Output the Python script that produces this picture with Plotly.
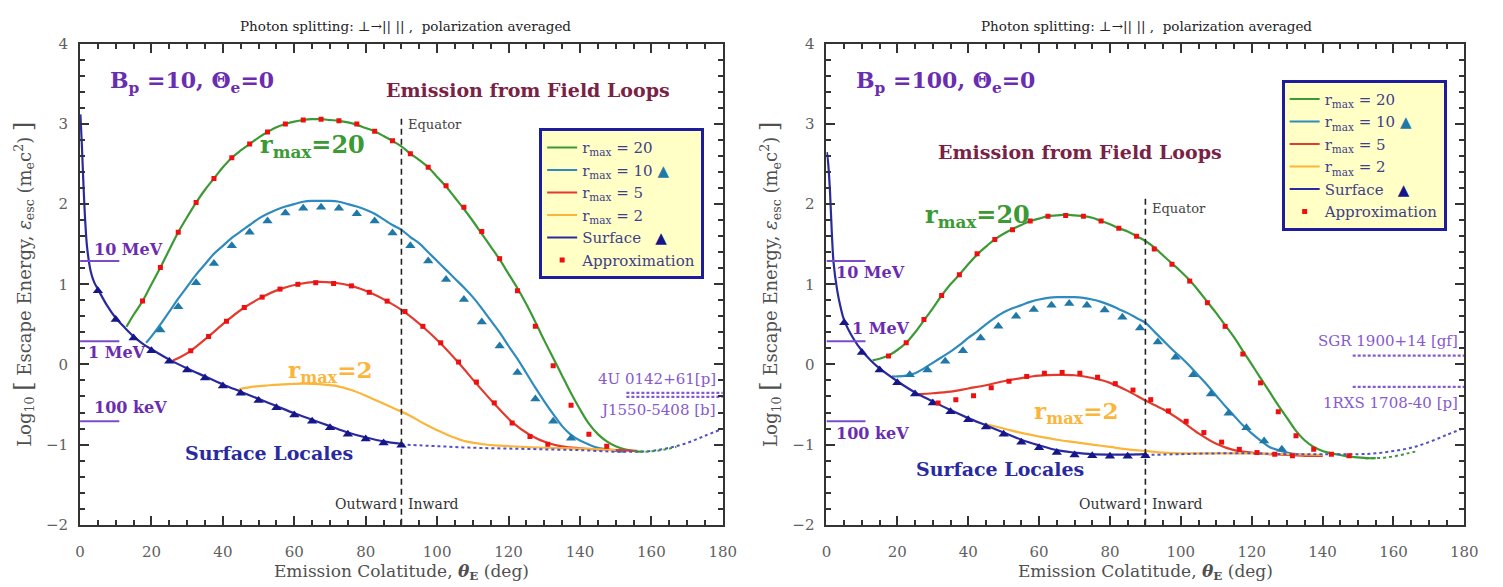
import plotly.graph_objects as go

# ---------------- DATA ----------------
# Left panel: Bp = 10
L_surf_theta = [0.1, 0.5, 1, 1.5, 2, 3, 4, 5, 7.5, 10, 12.5, 15, 17.5, 20, 25, 30, 35, 40, 45, 50, 55, 60, 65, 70, 75, 80, 85, 90]
L_surf_val = [3.12, 2.75, 2.2, 1.75, 1.45, 1.16, 1.02, 0.94, 0.74, 0.58, 0.46, 0.35, 0.26, 0.19, 0.06, -0.05, -0.15, -0.25, -0.34, -0.43, -0.52, -0.61, -0.69, -0.77, -0.85, -0.91, -0.96, -0.99]
L_surf_tri_theta = [5, 10, 15, 20, 25, 30, 35, 40, 45, 50, 55, 60, 65, 70, 75, 80, 85, 90]
L_surf_tri_val = [0.92, 0.56, 0.33, 0.17, 0.04, -0.07, -0.17, -0.27, -0.36, -0.45, -0.54, -0.63, -0.71, -0.79, -0.87, -0.93, -0.98, -1.01]
L_surf_dot_theta = [90, 100, 110, 120, 130, 140, 150, 155, 160, 165, 170, 175, 179]
L_surf_dot_val = [-1.0, -1.02, -1.04, -1.05, -1.06, -1.07, -1.09, -1.09, -1.08, -1.04, -0.98, -0.89, -0.82]

L_r20_theta = [13, 15, 17.5, 20, 22.5, 25, 27.5, 30, 32.5, 35, 37.5, 40, 42.5, 45, 47.5, 50, 52.5, 55, 57.5, 60, 62.5, 65, 67.5, 70, 72.5, 75, 77.5, 80, 82.5, 85, 87.5, 90, 92.5, 95, 97.5, 100, 102.5, 105, 107.5, 110, 112.5, 115, 117.5, 120, 122.5, 125, 127.5, 130, 132.5, 135, 137.5, 140, 142.5, 145, 147.5, 150, 152.5, 155, 157.5]
L_r20_val = [0.47, 0.62, 0.79, 1.0, 1.21, 1.43, 1.65, 1.84, 2.02, 2.18, 2.32, 2.46, 2.58, 2.67, 2.75, 2.83, 2.90, 2.96, 3.0, 3.03, 3.05, 3.06, 3.06, 3.05, 3.04, 3.02, 2.99, 2.95, 2.91, 2.85, 2.79, 2.72, 2.63, 2.55, 2.46, 2.34, 2.22, 2.08, 1.94, 1.79, 1.63, 1.47, 1.31, 1.13, 0.95, 0.75, 0.53, 0.30, 0.08, -0.14, -0.36, -0.56, -0.74, -0.87, -0.96, -1.02, -1.06, -1.08, -1.09]
L_r20_approx_theta = [17.5, 22.5, 27.5, 32.5, 37.5, 42.5, 47.5, 52.5, 57.5, 62.5, 67.5, 72.5, 77.5, 82.5, 87.5, 92.5, 97.5, 102.5, 107.5, 112.5, 117.5, 122.5, 127.5, 132.5, 137.5, 142.5, 147.5]
L_r20_approx_val = [0.79, 1.21, 1.65, 2.02, 2.32, 2.58, 2.75, 2.90, 3.0, 3.05, 3.06, 3.04, 3.0, 2.91, 2.79, 2.63, 2.46, 2.23, 1.96, 1.66, 1.32, 0.92, 0.475, -0.016, -0.51, -0.87, -1.02]

L_r10_theta = [18.5, 20, 22.5, 25, 27.5, 30, 32.5, 35, 37.5, 40, 42.5, 45, 47.5, 50, 52.5, 55, 57.5, 60, 62.5, 65, 67.5, 70, 72.5, 75, 77.5, 80, 82.5, 85, 87.5, 90, 92.5, 95, 97.5, 100, 102.5, 105, 107.5, 110, 112.5, 115, 117.5, 120, 122.5, 125, 127.5, 130, 132.5, 135, 137.5, 140, 142.5, 145, 147.5, 150, 152.5]
L_r10_val = [0.27, 0.35, 0.5, 0.66, 0.82, 0.97, 1.12, 1.25, 1.38, 1.48, 1.58, 1.66, 1.74, 1.82, 1.88, 1.93, 1.97, 2.0, 2.03, 2.04, 2.04, 2.04, 2.03, 2.0, 1.97, 1.93, 1.88, 1.81, 1.74, 1.68, 1.59, 1.51, 1.40, 1.29, 1.18, 1.07, 0.96, 0.84, 0.70, 0.55, 0.40, 0.23, 0.07, -0.11, -0.29, -0.46, -0.62, -0.77, -0.88, -0.95, -1.0, -1.04, -1.06, -1.08, -1.09]
L_r10_tri_theta = [22.5, 27.5, 32.5, 37.5, 42.5, 47.5, 52.5, 57.5, 62.5, 67.5, 72.5, 77.5, 82.5, 87.5, 92.5, 97.5, 102.5, 107.5, 112.5, 117.5, 122.5, 127.5, 132.5, 137.5]
L_r10_tri_val = [0.43, 0.72, 1.02, 1.26, 1.48, 1.65, 1.79, 1.89, 1.95, 1.96, 1.95, 1.88, 1.79, 1.64, 1.48, 1.29, 1.06, 0.81, 0.53, 0.23, -0.10, -0.43, -0.71, -0.92]

L_r5_theta = [26, 28, 31, 36, 41, 46, 51, 56, 61, 66, 71, 76, 81, 86, 91, 96, 101, 106, 111, 116, 121, 126, 131, 136, 141, 146, 151, 156]
L_r5_val = [0.05, 0.09, 0.17, 0.35, 0.54, 0.71, 0.84, 0.94, 1.0, 1.03, 1.02, 0.98, 0.90, 0.79, 0.65, 0.47, 0.26, 0.02, -0.24, -0.49, -0.72, -0.88, -0.98, -1.03, -1.05, -1.06, -1.07, -1.08]
L_r5_approx_theta = [31, 36, 41, 46, 51, 56, 61, 66, 71, 76, 81, 86, 91, 96, 101, 106, 111, 116, 121, 126, 131]
L_r5_approx_val = [0.17, 0.35, 0.54, 0.71, 0.84, 0.94, 1.0, 1.02, 1.01, 0.98, 0.90, 0.79, 0.66, 0.475, 0.27, 0.03, -0.22, -0.48, -0.73, -0.90, -0.995]

L_r2_theta = [44.5, 48, 53, 58, 63, 68, 72, 76, 80, 84, 88, 92, 96, 100, 104, 108, 112, 116, 120, 130, 140, 150]
L_r2_val = [-0.31, -0.28, -0.26, -0.245, -0.24, -0.25, -0.27, -0.32, -0.39, -0.47, -0.55, -0.63, -0.73, -0.82, -0.9, -0.96, -0.99, -1.01, -1.02, -1.04, -1.05, -1.07]

L_green_dot_theta = [155, 158, 161, 164, 167]
L_green_dot_val = [-1.08, -1.09, -1.08, -1.06, -1.03]

# Right panel: Bp = 100
R_surf_theta = [0.1, 0.5, 1, 1.5, 2, 3, 4, 5, 7.5, 10, 12.5, 15, 20, 25, 30, 35, 40, 45, 50, 55, 60, 65, 70, 75, 80, 85, 90]
R_surf_val = [2.65, 2.5, 2.15, 1.65, 1.27, 0.93, 0.71, 0.55, 0.33, 0.17, 0.05, -0.05, -0.21, -0.35, -0.46, -0.57, -0.67, -0.76, -0.85, -0.94, -1.01, -1.07, -1.10, -1.12, -1.125, -1.125, -1.12]
R_surf_tri_theta = [5, 10, 15, 20, 25, 30, 35, 40, 45, 50, 55, 60, 65, 70, 75, 80, 85, 90]
R_surf_tri_val = [0.52, 0.15, -0.07, -0.23, -0.37, -0.48, -0.59, -0.69, -0.78, -0.87, -0.97, -1.04, -1.10, -1.13, -1.14, -1.145, -1.145, -1.14]
R_surf_dot_theta = [90, 100, 110, 120, 130, 140, 150, 155, 160, 165, 170, 175, 179]
R_surf_dot_val = [-1.13, -1.12, -1.11, -1.11, -1.12, -1.12, -1.12, -1.11, -1.08, -1.04, -0.97, -0.88, -0.81]

R_r20_theta = [13, 15, 17.5, 20, 22.5, 25, 27.5, 30, 32.5, 35, 37.5, 40, 42.5, 45, 47.5, 50, 52.5, 55, 57.5, 60, 62.5, 65, 67.5, 70, 72.5, 75, 77.5, 80, 82.5, 85, 87.5, 90, 92.5, 95, 97.5, 100, 102.5, 105, 107.5, 110, 112.5, 115, 117.5, 120, 122.5, 125, 127.5, 130, 132.5, 135, 137.5, 140, 142.5, 145, 147.5, 150, 152.5, 155]
R_r20_val = [0.05, 0.07, 0.11, 0.18, 0.27, 0.40, 0.55, 0.70, 0.86, 1.0, 1.12, 1.25, 1.37, 1.47, 1.56, 1.63, 1.69, 1.74, 1.79, 1.82, 1.85, 1.86, 1.87, 1.86, 1.85, 1.83, 1.79, 1.75, 1.70, 1.66, 1.60, 1.54, 1.46, 1.36, 1.26, 1.16, 1.05, 0.92, 0.78, 0.64, 0.49, 0.34, 0.17, 0.0, -0.17, -0.34, -0.51, -0.67, -0.83, -0.95, -1.03, -1.08, -1.11, -1.13, -1.15, -1.16, -1.17, -1.17]
R_r20_approx_theta = [17.5, 22.5, 27.5, 32.5, 37.5, 42.5, 47.5, 52.5, 57.5, 62.5, 67.5, 72.5, 77.5, 82.5, 87.5, 92.5, 97.5, 102.5, 107.5, 112.5, 117.5, 122.5, 127.5, 132.5, 137.5, 142.5, 147.5]
R_r20_approx_val = [0.105, 0.27, 0.56, 0.86, 1.12, 1.38, 1.56, 1.68, 1.79, 1.85, 1.86, 1.85, 1.79, 1.70, 1.60, 1.44, 1.25, 1.04, 0.77, 0.475, 0.13, -0.23, -0.59, -0.89, -1.06, -1.12, -1.14]

R_r10_theta = [18.5, 20, 22.5, 25, 27.5, 30, 32.5, 35, 37.5, 40, 42.5, 45, 47.5, 50, 52.5, 55, 57.5, 60, 62.5, 65, 67.5, 70, 72.5, 75, 77.5, 80, 82.5, 85, 87.5, 90, 92.5, 95, 97.5, 100, 102.5, 105, 107.5, 110, 112.5, 115, 117.5, 120, 122.5, 125, 127.5, 130, 132.5, 135, 140]
R_r10_val = [-0.15, -0.15, -0.14, -0.11, -0.05, 0.02, 0.09, 0.16, 0.24, 0.33, 0.41, 0.50, 0.58, 0.65, 0.70, 0.74, 0.78, 0.81, 0.83, 0.84, 0.84, 0.84, 0.83, 0.81, 0.78, 0.74, 0.69, 0.64, 0.58, 0.52, 0.41, 0.30, 0.19, 0.09, -0.02, -0.14, -0.26, -0.39, -0.52, -0.64, -0.76, -0.86, -0.95, -1.03, -1.07, -1.10, -1.12, -1.13, -1.14]
R_r10_tri_theta = [23.5, 28.5, 33.5, 38.5, 43.5, 48.5, 53.5, 58.5, 63.5, 68.5, 73.5, 78.5, 83.5, 88.5, 93.5, 98.5, 103.5, 108.5, 113.5, 118.5, 123.5, 128.5]
R_r10_tri_val = [-0.13, -0.07, 0.04, 0.17, 0.33, 0.475, 0.60, 0.685, 0.74, 0.76, 0.74, 0.68, 0.59, 0.455, 0.28, 0.09, -0.13, -0.37, -0.61, -0.79, -0.955, -1.06]

R_r5_theta = [26, 30, 35, 40, 45, 50, 55, 60, 65, 70, 75, 80, 85, 90, 95, 100, 105, 110, 115, 120, 125, 130, 135, 140]
R_r5_val = [-0.37, -0.36, -0.34, -0.30, -0.26, -0.21, -0.17, -0.14, -0.13, -0.135, -0.17, -0.23, -0.33, -0.45, -0.56, -0.70, -0.86, -0.99, -1.07, -1.10, -1.12, -1.13, -1.14, -1.14]
R_r5_approx_theta = [31.5, 36.5, 41.5, 46.5, 51.5, 56.5, 61.5, 66.5, 71.5, 76.5, 81.5, 86.5, 91.5, 96.5, 101.5, 106.5, 111.5, 116.5, 121.5, 126.5, 131.5]
R_r5_approx_val = [-0.48, -0.44, -0.39, -0.29, -0.21, -0.15, -0.11, -0.10, -0.11, -0.16, -0.24, -0.32, -0.44, -0.58, -0.71, -0.85, -0.97, -1.06, -1.10, -1.12, -1.14]

R_r2_theta = [44.5, 50, 55, 60, 65, 70, 75, 80, 85, 90, 95, 100, 110, 120, 130, 140]
R_r2_val = [-0.74, -0.80, -0.855, -0.90, -0.94, -0.97, -1.0, -1.03, -1.06, -1.08, -1.10, -1.11, -1.11, -1.11, -1.12, -1.13]

R_green_dot_theta = [152, 155, 158, 161, 164, 167]
R_green_dot_val = [-1.17, -1.17, -1.16, -1.14, -1.11, -1.08]

# Reference energy levels (log10 of E / m_e c^2)
energy_labels = ["10 MeV", "1 MeV", "100 keV"]
energy_vals = [1.29, 0.29, -0.71]
energy_theta_end = 11

# Magnetar cutoff markers
L_mag_names = ["4U 0142+61[p]", "J1550-5408 [b]"]
L_mag_vals = [-0.355, -0.405]
R_mag_names = ["SGR 1900+14 [gf]", "1RXS 1708-40 [p]"]
R_mag_vals = [0.11, -0.28]
L_mag_theta = [153, 180]
R_mag_theta = [148.5, 180]

x_tickvals = [0, 20, 40, 60, 80, 100, 120, 140, 160, 180]
y_tickvals = [-2, -1, 0, 1, 2, 3, 4]
equator_theta = 90

# ---------------- STYLE ----------------
C_GREEN = "#3c9a34"
C_BLUE = "#2f8bbd"
C_BLUE_TRI = "#1f79a8"
C_RED = "#e23b2e"
C_YEL = "#fbb53a"
C_SURF = "#2a2aa0"
C_SURF_TRI = "#16168a"
C_APPROX = "#ee1010"
C_PURPLE = "#6a2db0"
C_MAG = "#8659cf"
SERIF = "DejaVu Serif"
BOLD = "DejaVu Serif"

fig = go.Figure()

def add_panel(xa, ya, lg, P):
    common = dict(xaxis=xa, yaxis=ya, legend=lg, mode="lines", line_shape="spline")
    fig.add_trace(go.Scatter(x=P["r20"][0], y=P["r20"][1], name="r<sub>max</sub> = 20",
                             line=dict(color=C_GREEN, width=2.2), **common))
    fig.add_trace(go.Scatter(x=P["r10"][0], y=P["r10"][1],
                             name="r<sub>max</sub> = 10 <span style='color:%s'>▲</span>" % C_BLUE_TRI,
                             line=dict(color=C_BLUE, width=2.2), **common))
    fig.add_trace(go.Scatter(x=P["r5"][0], y=P["r5"][1], name="r<sub>max</sub> = 5",
                             line=dict(color=C_RED, width=2.2), **common))
    fig.add_trace(go.Scatter(x=P["r2"][0], y=P["r2"][1], name="r<sub>max</sub> = 2",
                             line=dict(color=C_YEL, width=2.2), **common))
    fig.add_trace(go.Scatter(x=P["surf"][0], y=P["surf"][1],
                             name="Surface&nbsp;&nbsp; <span style='color:%s'>▲</span>" % C_SURF_TRI,
                             line=dict(color=C_SURF, width=2.2), **common))
    # dotted continuations
    fig.add_trace(go.Scatter(x=P["surfdot"][0], y=P["surfdot"][1], xaxis=xa, yaxis=ya, mode="lines",
                             line_shape="spline", line=dict(color="#5050c8", width=2, dash="dot"),
                             showlegend=False, hoverinfo="skip"))
    fig.add_trace(go.Scatter(x=P["greendot"][0], y=P["greendot"][1], xaxis=xa, yaxis=ya, mode="lines",
                             line_shape="spline", line=dict(color=C_GREEN, width=2, dash="dot"),
                             showlegend=False, hoverinfo="skip"))
    # markers
    fig.add_trace(go.Scatter(x=P["r10tri"][0], y=P["r10tri"][1], xaxis=xa, yaxis=ya, mode="markers",
                             marker=dict(symbol="triangle-up", size=9, color=C_BLUE_TRI),
                             showlegend=False))
    fig.add_trace(go.Scatter(x=P["surftri"][0], y=P["surftri"][1], xaxis=xa, yaxis=ya, mode="markers",
                             marker=dict(symbol="triangle-up", size=9, color=C_SURF_TRI),
                             showlegend=False))
    fig.add_trace(go.Scatter(x=P["r20ap"][0], y=P["r20ap"][1], xaxis=xa, yaxis=ya, legend=lg,
                             mode="markers", name="Approximation", legendgroup="ap" + lg,
                             marker=dict(symbol="square", size=5, color=C_APPROX)))
    fig.add_trace(go.Scatter(x=P["r5ap"][0], y=P["r5ap"][1], xaxis=xa, yaxis=ya, legend=lg,
                             mode="markers", name="Approximation", legendgroup="ap" + lg,
                             marker=dict(symbol="square", size=5, color=C_APPROX), showlegend=False))
    # energy reference lines
    for v in energy_vals:
        fig.add_trace(go.Scatter(x=[0, energy_theta_end], y=[v, v], xaxis=xa, yaxis=ya, mode="lines",
                                 line=dict(color="#7a4cc8", width=2), showlegend=False, hoverinfo="skip"))
    # magnetar lines
    for v in P["magvals"]:
        fig.add_trace(go.Scatter(x=P["magtheta"], y=[v, v], xaxis=xa, yaxis=ya, mode="lines",
                                 line=dict(color=C_MAG, width=2.2, dash="3px,2px"),
                                 showlegend=False, hoverinfo="skip"))
    # equator
    fig.add_trace(go.Scatter(x=[equator_theta, equator_theta], y=[-2, P["eqtop"]], xaxis=xa, yaxis=ya,
                             mode="lines", line=dict(color="#222222", width=1.6, dash="6px,4px"),
                             showlegend=False, hoverinfo="skip"))

PL = dict(r20=(L_r20_theta, L_r20_val), r10=(L_r10_theta, L_r10_val), r5=(L_r5_theta, L_r5_val),
          r2=(L_r2_theta, L_r2_val), surf=(L_surf_theta, L_surf_val), surfdot=(L_surf_dot_theta, L_surf_dot_val),
          greendot=(L_green_dot_theta, L_green_dot_val), r10tri=(L_r10_tri_theta, L_r10_tri_val),
          surftri=(L_surf_tri_theta, L_surf_tri_val), r20ap=(L_r20_approx_theta, L_r20_approx_val),
          r5ap=(L_r5_approx_theta, L_r5_approx_val), magvals=L_mag_vals, magtheta=L_mag_theta, eqtop=3.1)
PR = dict(r20=(R_r20_theta, R_r20_val), r10=(R_r10_theta, R_r10_val), r5=(R_r5_theta, R_r5_val),
          r2=(R_r2_theta, R_r2_val), surf=(R_surf_theta, R_surf_val), surfdot=(R_surf_dot_theta, R_surf_dot_val),
          greendot=(R_green_dot_theta, R_green_dot_val), r10tri=(R_r10_tri_theta, R_r10_tri_val),
          surftri=(R_surf_tri_theta, R_surf_tri_val), r20ap=(R_r20_approx_theta, R_r20_approx_val),
          r5ap=(R_r5_approx_theta, R_r5_approx_val), magvals=R_mag_vals, magtheta=R_mag_theta, eqtop=2.1)

add_panel("x", "y", "legend", PL)
add_panel("x2", "y2", "legend2", PR)

# ---------------- ANNOTATIONS ----------------
ann = []
def T(x, y, text, xr, yr, size, color, bold=False, xanchor="center", yanchor="middle", font=SERIF):
    ann.append(dict(x=x, y=y, xref=xr, yref=yr, text=("<b>%s</b>" % text) if bold else text,
                    showarrow=False, xanchor=xanchor, yanchor=yanchor, borderpad=0,
                    font=dict(family=font, size=size, color=color)))

title = "Photon splitting: ⊥→|| || ,  polarization averaged"
T(0.270, 0.970, title, "paper", "paper", 13.5, "#222222")
T(0.769, 0.970, title, "paper", "paper", 13.5, "#222222")

for (xr, yr, bp, r20x, r20y, r2x, r2y, slx, sly, eqy) in [
        ("x", "y", "10", 65, 2.72, 70, -0.09, 53, -1.11, 3.0),
        ("x2", "y2", "100", 42.6, 1.85, 70.5, -0.6, 49, -1.31, 1.95)]:
    T(8, 3.52, "B<sub>p</sub> =%s, Θ<sub>e</sub>=0" % bp, xr, yr, 22, C_PURPLE, True, "left", font=BOLD)
    T(r20x, r20y, "r<sub>max</sub>=20", xr, yr, 24, C_GREEN, True, font=BOLD)
    T(r2x, r2y, "r<sub>max</sub>=2", xr, yr, 23, C_YEL, True, font=BOLD)
    T(slx, sly, "Surface Locales", xr, yr, 19, "#2a2aa0", True, font=BOLD)
    T(91.5, eqy, "Equator", xr, yr, 13, "#444444", False, "left")
    T(89, -1.74, "Outward", xr, yr, 14, "#333333", False, "right")
    T(91.5, -1.74, "Inward", xr, yr, 14, "#333333", False, "left")

T(125.5, 3.42, "Emission from Field Loops", "x", "y", 19, "#7a2245", True, font=BOLD)
T(71.5, 2.65, "Emission from Field Loops", "x2", "y2", 19, "#7a2245", True, font=BOLD)

# energy labels
lab_pos_L = [(3.5, 1.44), (2, 0.15), (3.5, -0.54)]
lab_pos_R = [(2.5, 1.15), (7, 0.45), (2.5, -0.86)]
for lbl, (tx, ty) in zip(energy_labels, lab_pos_L):
    T(tx, ty, lbl, "x", "y", 16, C_PURPLE, True, "left", font=BOLD)
for lbl, (tx, ty) in zip(energy_labels, lab_pos_R):
    T(tx, ty, lbl, "x2", "y2", 16, C_PURPLE, True, "left", font=BOLD)

# magnetar labels
T(178.5, -0.18, L_mag_names[0], "x", "y", 15, C_MAG, False, "right")
T(178.5, -0.57, L_mag_names[1], "x", "y", 15, C_MAG, False, "right")
T(178.5, 0.29, R_mag_names[0], "x2", "y2", 15, C_MAG, False, "right")
T(178.5, -0.48, R_mag_names[1], "x2", "y2", 15, C_MAG, False, "right")

# ---------------- AXES ----------------
W, H = 1503, 587
xdomL = [76 / W, 727 / W]
xdomR = [832 / W, 1478 / W]
ydom = [55 / H, 551 / H]

axcommon = dict(showline=True, linecolor="#333333", linewidth=2, mirror="allticks", ticks="inside",
                ticklen=9, tickwidth=1.5, tickcolor="#333333", showgrid=False, zeroline=False,
                tickfont=dict(family=SERIF, size=15, color="#606060"))
xtitle = "Emission Colatitude, <b><i>θ</i><sub>E</sub></b> (deg)"
ytitle = ("Log<sub>10</sub> <span style='font-size:24px'>[</span> Escape Energy, <i>ε</i><sub>esc</sub> "
          "(m<sub>e</sub>c<sup>2</sup>) <span style='font-size:24px'>]</span>")
xtfont = dict(family=SERIF, size=17, color="#505050")
ytfont = dict(family=SERIF, size=18, color="#505050")

def xax(dom, anchor):
    return dict(domain=dom, range=[0, 180], tickvals=x_tickvals, anchor=anchor, ticklabelstandoff=12,
                minor=dict(dtick=5, ticklen=5, tickcolor="#333333", ticks="inside"),
                title=dict(text=xtitle, font=xtfont, standoff=3), **axcommon)

def yax(anchor):
    return dict(domain=ydom, range=[-2, 4], tickvals=y_tickvals, anchor=anchor, ticklabelstandoff=7,
                minor=dict(dtick=0.2, ticklen=5, tickcolor="#333333", ticks="inside"),
                title=dict(text=ytitle, font=ytfont, standoff=10), **axcommon)

legfont = dict(family=SERIF, size=15, color="#40408a")
fig.update_layout(
    xaxis=xax(xdomL, "y"), yaxis=yax("x"),
    xaxis2=xax(xdomR, "y2"), yaxis2=yax("x2"),
    legend=dict(x=541 / W, y=1 - 123 / H, xanchor="left", yanchor="top", bgcolor="#ffffc6",
                bordercolor="#1c1c9c", borderwidth=3, itemwidth=30, tracegroupgap=0, font=legfont),
    legend2=dict(x=1293 / W, y=1 - 73 / H, xanchor="left", yanchor="top", bgcolor="#ffffc6",
                 bordercolor="#1c1c9c", borderwidth=3, itemwidth=30, tracegroupgap=0, font=legfont),
    annotations=ann,
    width=W, height=H,
    margin=dict(l=0, r=0, t=0, b=0),
    paper_bgcolor="white", plot_bgcolor="white",
    showlegend=True,
)

fig.write_html("out.html")
